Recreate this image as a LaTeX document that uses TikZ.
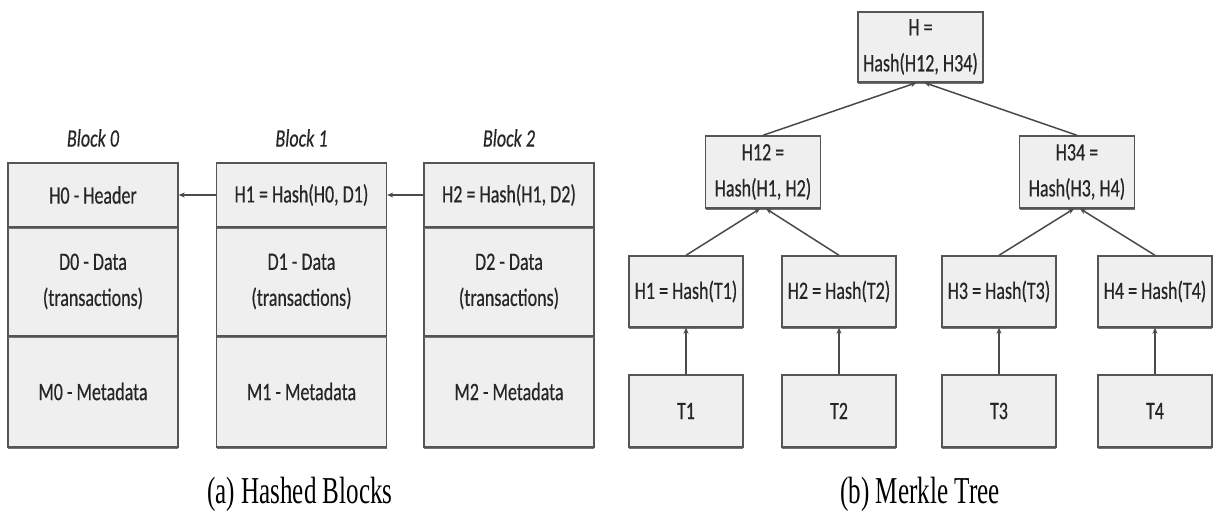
\documentclass[tikz,border=0pt]{standalone}
\usepackage{fontspec}
\usetikzlibrary{arrows.meta,shadows}
\newfontfamily\boxfont[FakeStretch=0.72,FakeBold=0.4]{Carlito}
\newfontfamily\capfont[FakeStretch=0.66]{Liberation Serif}
\definecolor{boxfill}{HTML}{EFEFEF}
\definecolor{boxline}{HTML}{555555}
\definecolor{linkc}{HTML}{4A4A4A}
\definecolor{textc}{HTML}{262626}
\tikzset{
  cell/.style={draw=boxline, fill=boxfill, line width=1.4pt, inner sep=0pt,
    align=center, text=textc, font=\boxfont\fontsize{25}{36}\selectfont,
    drop shadow={shadow xshift=0pt, shadow yshift=-1.6pt, fill=black!55, opacity=1}},
  blocklabel/.style={text=textc, font=\boxfont\itshape\fontsize{25}{30}\selectfont},
  caption/.style={font=\capfont\fontsize{38}{40}\selectfont},
  link/.style={draw=linkc, line width=1.5pt, -{Stealth[length=6pt,width=5pt]}}
}
\begin{document}
\begin{tikzpicture}[x=1pt,y=1pt]
\useasboundingbox (0,0) rectangle (1213,-516);
% ---------- (a) Hashed blocks ----------
\foreach \i/\cx in {0/93,1/301.5,2/509}{
  \node[cell, minimum width=170pt, minimum height=111pt] (M\i) at (\cx,-391.5) {M\i{} - Metadata};
  \node[cell, minimum width=170pt, minimum height=109pt] (D\i) at (\cx,-281.5) {D\i{} - Data\\(transactions)};
  \node[blocklabel] (L\i) at (\cx,-138) {Block \i};
}
\node[cell, minimum width=170pt, minimum height=64pt] (B0) at (93,-195) {H0 - Header};
\node[cell, minimum width=170pt, minimum height=64pt] (B1) at (301.5,-195) {H1 = Hash(H0, D1)};
\node[cell, minimum width=170pt, minimum height=64pt] (B2) at (509,-195) {H2 = Hash(H1, D2)};
\draw[link] (B1.west) -- (B0.east);
\draw[link] (B2.west) -- (B1.east);
\node[caption] (capa) at (300,-494) {(a) Hashed Blocks};
% ---------- (b) Merkle tree ----------
\node[cell, minimum width=125pt, minimum height=70pt] (H) at (920.5,-47) {H =\\Hash(H12, H34)};
\node[cell, minimum width=115pt, minimum height=72pt] (H12) at (763,-172) {H12 =\\Hash(H1, H2)};
\node[cell, minimum width=115pt, minimum height=72pt] (H34) at (1077,-172) {H34 =\\Hash(H3, H4)};
\foreach \k/\cx in {1/686,2/839,3/999,4/1155}{
  \node[cell, minimum width=114pt, minimum height=71pt] (H\k) at (\cx,-291.5) {H\k{} = Hash(T\k)};
  \node[cell, minimum width=114pt, minimum height=72pt] (T\k) at (\cx,-411) {T\k};
  \draw[link] (T\k.north) -- (H\k.south);
}
\draw[link] (H12.north) -- ([xshift=-4pt]H.south);
\draw[link] (H34.north) -- ([xshift=4pt]H.south);
\draw[link] (H1.north) -- ([xshift=-3pt]H12.south);
\draw[link] (H2.north) -- ([xshift=3pt]H12.south);
\draw[link] (H3.north) -- ([xshift=-3pt]H34.south);
\draw[link] (H4.north) -- ([xshift=3pt]H34.south);
\node[caption] (capb) at (920,-494) {(b) Merkle Tree};
\end{tikzpicture}
\end{document}
